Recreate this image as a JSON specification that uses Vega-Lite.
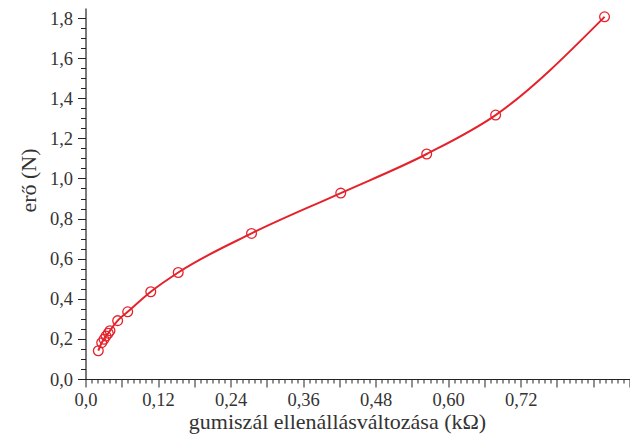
{
  "$schema": "https://vega.github.io/schema/vega-lite/v6.json",
  "width": 544,
  "height": 371,
  "autosize": "none",
  "padding": {"left": 85.5, "top": 8, "right": 0.5, "bottom": 59},
  "background": "white",
  "config": {
    "view": {"stroke": null},
    "font": "Liberation Serif"
  },
  "data": {
    "values": [
      {"x": 0.0212, "y": 0.141},
      {"x": 0.0268, "y": 0.181},
      {"x": 0.0306, "y": 0.198},
      {"x": 0.0339, "y": 0.214},
      {"x": 0.0377, "y": 0.228},
      {"x": 0.0405, "y": 0.241},
      {"x": 0.0532, "y": 0.291},
      {"x": 0.0698, "y": 0.335},
      {"x": 0.108, "y": 0.435},
      {"x": 0.1534, "y": 0.531},
      {"x": 0.2747, "y": 0.726},
      {"x": 0.4223, "y": 0.927},
      {"x": 0.5645, "y": 1.122},
      {"x": 0.6785, "y": 1.316},
      {"x": 0.8587, "y": 1.806}
    ]
  },
  "encoding": {
    "x": {
      "field": "x", "type": "quantitative",
      "scale": {"domain": [0, 0.9], "nice": false, "zero": false},
      "axis": {
        "title": "gumiszál ellenállásváltozása (kΩ)",
        "grid": false,
        "values": [0,0.01,0.02,0.03,0.04,0.05,0.06,0.07,0.08,0.09,0.1,0.11,0.12,0.13,0.14,0.15,0.16,0.17,0.18,0.19,0.2,0.21,0.22,0.23,0.24,0.25,0.26,0.27,0.28,0.29,0.3,0.31,0.32,0.33,0.34,0.35,0.36,0.37,0.38,0.39,0.4,0.41,0.42,0.43,0.44,0.45,0.46,0.47,0.48,0.49,0.5,0.51,0.52,0.53,0.54,0.55,0.56,0.57,0.58,0.59,0.6,0.61,0.62,0.63,0.64,0.65,0.66,0.67,0.68,0.69,0.7,0.71,0.72,0.73,0.74,0.75,0.76,0.77,0.78,0.79,0.8,0.81,0.82,0.83,0.84,0.85,0.86,0.87,0.88,0.89,0.9],
        "labelExpr": "(round(datum.value*100) % 12 == 0 && datum.value < 0.8) ? (datum.value == 0 ? '0,0' : replace(format(datum.value, '.2f'), '.', ',')) : ''",
        "labelOverlap": false,
        "labelFlush": false,
        "tickSize": {"condition": {"test": "round(datum.value*100) % 6 == 0", "value": 8}, "value": 4},
        "tickColor": "#222",
        "tickWidth": 1,
        "domainColor": "#222",
        "domainWidth": 1.2,
        "labelFont": "Liberation Serif",
        "labelFontSize": 18.5,
        "labelColor": "#333",
        "labelPadding": 3,
        "titleFont": "Liberation Serif",
        "titleFontSize": 22,
        "titleFontWeight": "normal",
        "titleColor": "#333",
        "titlePadding": 3,
        "titleX": 251.5
      }
    },
    "y": {
      "field": "y", "type": "quantitative",
      "scale": {"domain": [0, 1.85], "nice": false, "zero": true},
      "axis": {
        "title": "erő (N)",
        "grid": false,
        "values": [0,0.05,0.1,0.15,0.2,0.25,0.3,0.35,0.4,0.45,0.5,0.55,0.6,0.65,0.7,0.75,0.8,0.85,0.9,0.95,1.0,1.05,1.1,1.15,1.2,1.25,1.3,1.35,1.4,1.45,1.5,1.55,1.6,1.65,1.7,1.75,1.8],
        "labelExpr": "round(datum.value*100) % 20 == 0 ? replace(format(datum.value, '.1f'), '.', ',') : ''",
        "labelOverlap": false,
        "labelFlush": false,
        "tickSize": {"condition": {"test": "round(datum.value*100) % 20 == 0", "value": 8}, "value": 5},
        "tickColor": "#222",
        "tickWidth": 1,
        "domainColor": "#222",
        "domainWidth": 1.2,
        "labelFont": "Liberation Serif",
        "labelFontSize": 18.5,
        "labelColor": "#333",
        "labelPadding": 5,
        "titleFont": "Liberation Serif",
        "titleFontSize": 22,
        "titleFontWeight": "normal",
        "titleColor": "#333",
        "titlePadding": 9,
        "titleY": 172
      }
    }
  },
  "layer": [
    {
      "mark": {"type": "line", "color": "#e5222b", "strokeWidth": 2, "interpolate": "monotone"}
    },
    {
      "mark": {"type": "point", "shape": "circle", "filled": false, "color": "#e5222b", "strokeWidth": 1.3, "size": 95, "opacity": 1}
    }
  ]
}
